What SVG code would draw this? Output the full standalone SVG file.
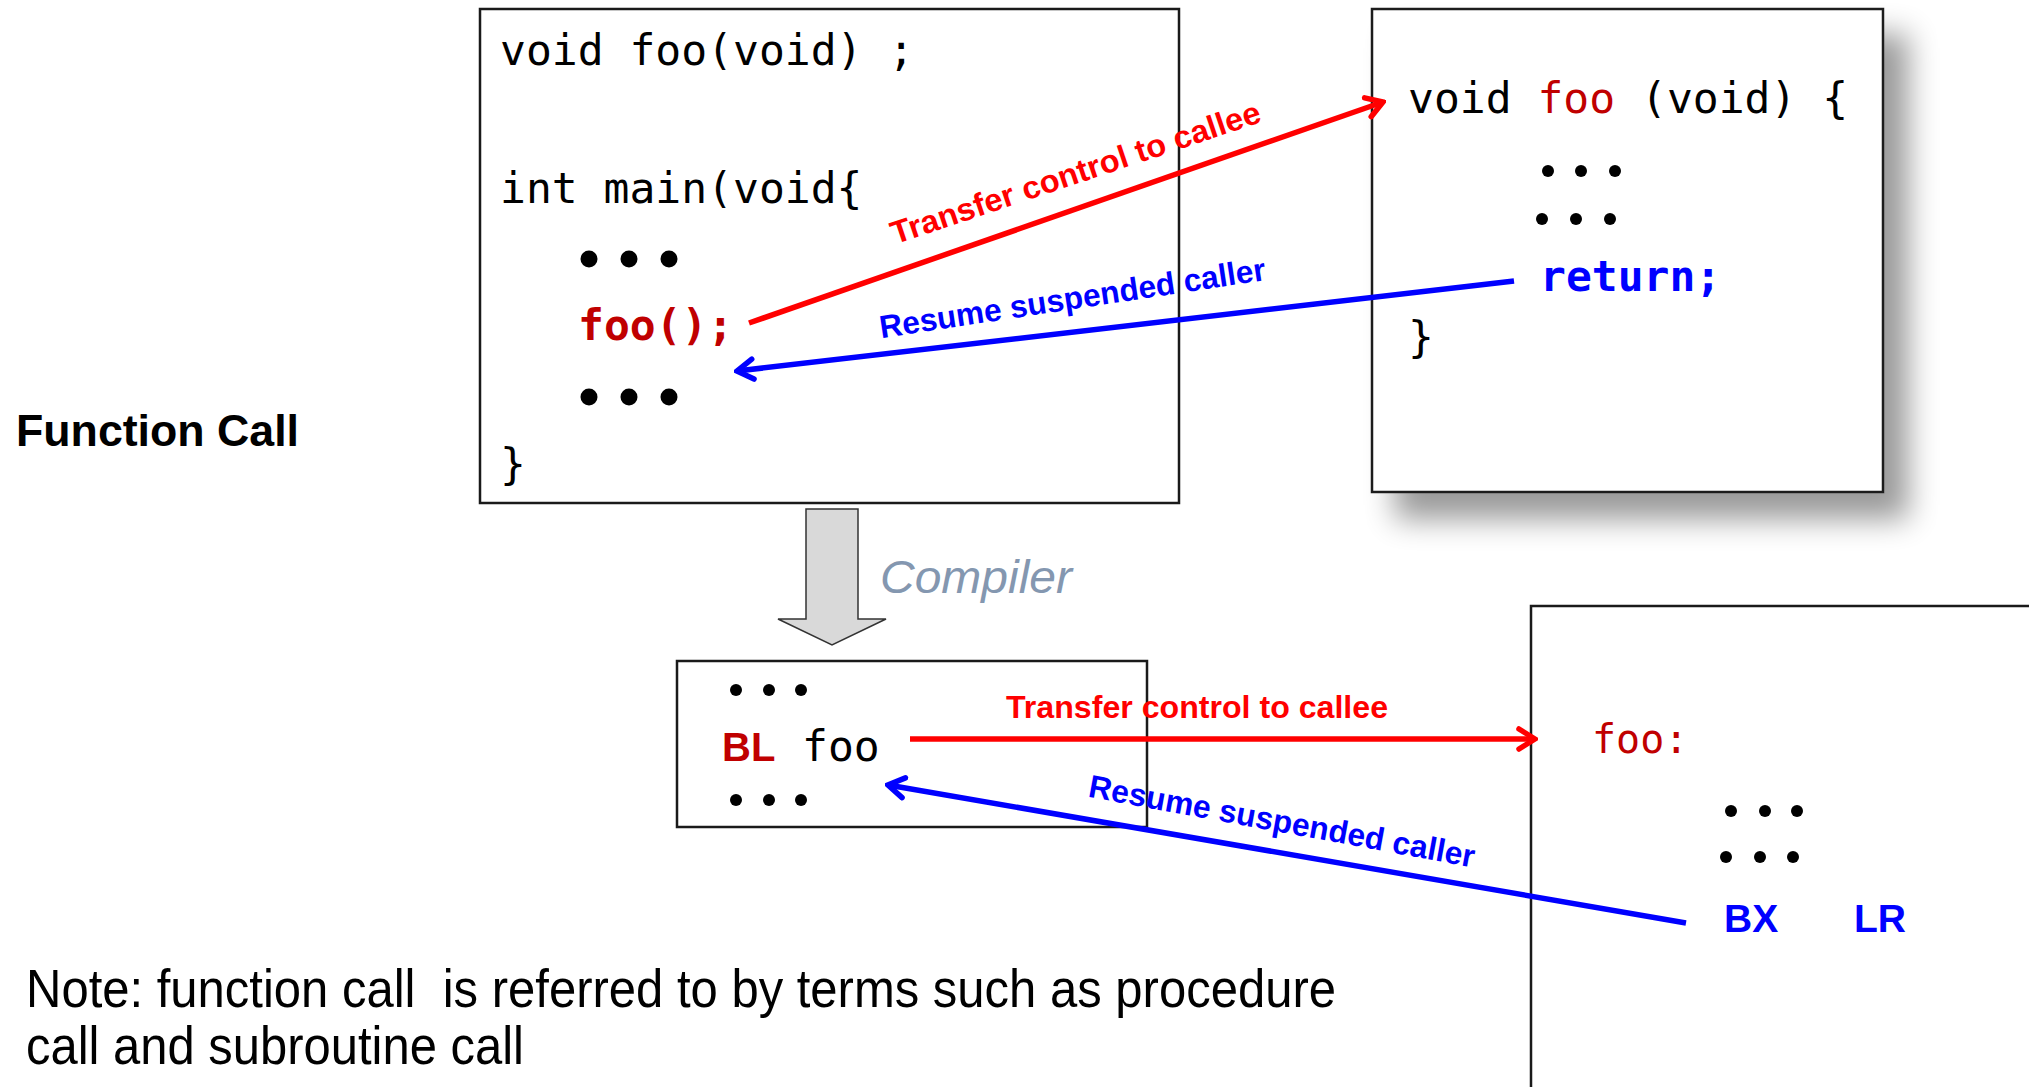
<svg xmlns="http://www.w3.org/2000/svg" width="2029" height="1087" viewBox="0 0 2029 1087">
<style>
.box{fill:#fff;stroke:#1a1a1a;stroke-width:2.5}
.code{font-family:"DejaVu Sans Mono","Liberation Mono",monospace;font-size:43px;fill:#000}
.codeb{font-family:"DejaVu Sans Mono","Liberation Mono",monospace;font-size:43px;font-weight:bold}
.dk{fill:#C00000}
.bl{fill:#0000FF}
.sans{font-family:"Liberation Sans",Arial,sans-serif}
.lblr{font-family:"Liberation Sans",Arial,sans-serif;font-weight:bold;font-size:32px;fill:#FF0000}
.lblb{font-family:"Liberation Sans",Arial,sans-serif;font-weight:bold;font-size:32px;fill:#0000FF}
.dot{fill:#000}
.cr{stroke:#FF0000;stroke-width:5.5;fill:none}
.cb{stroke:#0000FF;stroke-width:5.5;fill:none}
</style>
<defs>
<filter id="sh" x="-15%" y="-15%" width="140%" height="140%">
<feGaussianBlur in="SourceAlpha" stdDeviation="15"/>
<feOffset dx="24" dy="26" result="b"/>
<feComponentTransfer><feFuncA type="linear" slope="0.4"/></feComponentTransfer>
<feMerge><feMergeNode/><feMergeNode in="SourceGraphic"/></feMerge>
</filter>
<marker id="ar" viewBox="0 0 22 26" refX="19" refY="13" markerWidth="22" markerHeight="26" markerUnits="userSpaceOnUse" orient="auto">
<path d="M3,3 L19,13 L3,23" fill="none" stroke="#FF0000" stroke-width="5.5" stroke-linecap="round" stroke-linejoin="miter"/>
</marker>
<marker id="ab" viewBox="0 0 22 26" refX="19" refY="13" markerWidth="22" markerHeight="26" markerUnits="userSpaceOnUse" orient="auto">
<path d="M3,3 L19,13 L3,23" fill="none" stroke="#0000FF" stroke-width="5.5" stroke-linecap="round" stroke-linejoin="miter"/>
</marker>
</defs>
<rect width="2029" height="1087" fill="#fff"/>

<g id="title">
<text class="sans" x="16" y="446" font-size="44.7" font-weight="bold" textLength="283" lengthAdjust="spacingAndGlyphs">Function Call</text>
</g>

<g id="main-code">
<rect class="box" x="480" y="9" width="699" height="494"/>
<text class="code" x="500" y="65">void foo(void) ;</text>
<text class="code" x="500" y="203">int main(void{</text>
<circle class="dot" cx="589" cy="259" r="8.5"/><circle class="dot" cx="629" cy="259" r="8.5"/><circle class="dot" cx="669" cy="259" r="8.5"/>
<text class="codeb dk" x="578" y="340">foo();</text>
<circle class="dot" cx="589" cy="397" r="8.5"/><circle class="dot" cx="629" cy="397" r="8.5"/><circle class="dot" cx="669" cy="397" r="8.5"/>
<text class="code" x="500" y="479">}</text>
</g>

<g id="foo-code">
<rect class="box" x="1372" y="9" width="511" height="483" filter="url(#sh)"/>
<text class="code" x="1408" y="113">void <tspan class="dk">foo</tspan> (void) {</text>
<circle class="dot" cx="1548" cy="171" r="6"/><circle class="dot" cx="1581" cy="171" r="6"/><circle class="dot" cx="1615" cy="171" r="6"/>
<circle class="dot" cx="1542" cy="219" r="6"/><circle class="dot" cx="1576" cy="219" r="6"/><circle class="dot" cx="1610" cy="219" r="6"/>
<text class="codeb bl" x="1540" y="291">return;</text>
<text class="code" x="1408" y="352">}</text>
</g>

<g id="compiler">
<path d="M806,509 L858,509 L858,619 L886,619 L832,645 L778,619 L806,619 Z" fill="#D9D9D9" stroke="#333" stroke-width="1.5"/>
<text class="sans" x="880" y="593" font-size="47" font-style="italic" fill="#8497B0" textLength="192" lengthAdjust="spacingAndGlyphs">Compiler</text>
</g>

<g id="asm-caller">
<rect class="box" x="677" y="661" width="470" height="166"/>
<circle class="dot" cx="736" cy="690" r="6"/><circle class="dot" cx="769" cy="690" r="6"/><circle class="dot" cx="801" cy="690" r="6"/>
<text class="sans dk" x="722" y="761" font-size="40" font-weight="bold">BL</text>
<text class="code" x="802" y="761">foo</text>
<circle class="dot" cx="736" cy="800" r="6"/><circle class="dot" cx="769" cy="800" r="6"/><circle class="dot" cx="801" cy="800" r="6"/>
</g>

<g id="asm-callee">
<rect class="box" x="1531" y="606" width="520" height="500"/>
<text class="code dk" x="1592" y="753" style="font-size:40px">foo:</text>
<circle class="dot" cx="1731" cy="811" r="6"/><circle class="dot" cx="1765" cy="811" r="6"/><circle class="dot" cx="1797" cy="811" r="6"/>
<circle class="dot" cx="1726" cy="857" r="6"/><circle class="dot" cx="1760" cy="857" r="6"/><circle class="dot" cx="1793" cy="857" r="6"/>
<text class="sans bl" x="1724" y="932" font-size="39" font-weight="bold">BX</text>
<text class="sans bl" x="1854" y="932" font-size="39" font-weight="bold">LR</text>
</g>

<g id="connectors">
<line class="cr" x1="749" y1="323" x2="1383" y2="102" marker-end="url(#ar)"/>
<text class="lblr" transform="translate(1079,183) rotate(-18.5)" text-anchor="middle" textLength="388" lengthAdjust="spacingAndGlyphs">Transfer control to callee</text>
<line class="cb" x1="1514" y1="281" x2="737" y2="371" marker-end="url(#ab)"/>
<text class="lblb" transform="translate(1074,309) rotate(-8.6)" text-anchor="middle" textLength="390" lengthAdjust="spacingAndGlyphs">Resume suspended caller</text>
<line class="cr" x1="910" y1="739" x2="1535" y2="739" marker-end="url(#ar)"/>
<text class="lblr" x="1197" y="718" text-anchor="middle" textLength="382" lengthAdjust="spacingAndGlyphs">Transfer control to callee</text>
<line class="cb" x1="1686" y1="923" x2="888" y2="785" marker-end="url(#ab)"/>
<text class="lblb" transform="translate(1280,832) rotate(10.4)" text-anchor="middle" textLength="392" lengthAdjust="spacingAndGlyphs">Resume suspended caller</text>
</g>

<g id="note">
<text class="sans" x="26" y="1007" font-size="54" style="white-space:pre" xml:space="preserve" textLength="1310" lengthAdjust="spacingAndGlyphs">Note: function call  is referred to by terms such as procedure</text>
<text class="sans" x="26" y="1064" font-size="54" textLength="498" lengthAdjust="spacingAndGlyphs">call and subroutine call</text>
</g>
</svg>
